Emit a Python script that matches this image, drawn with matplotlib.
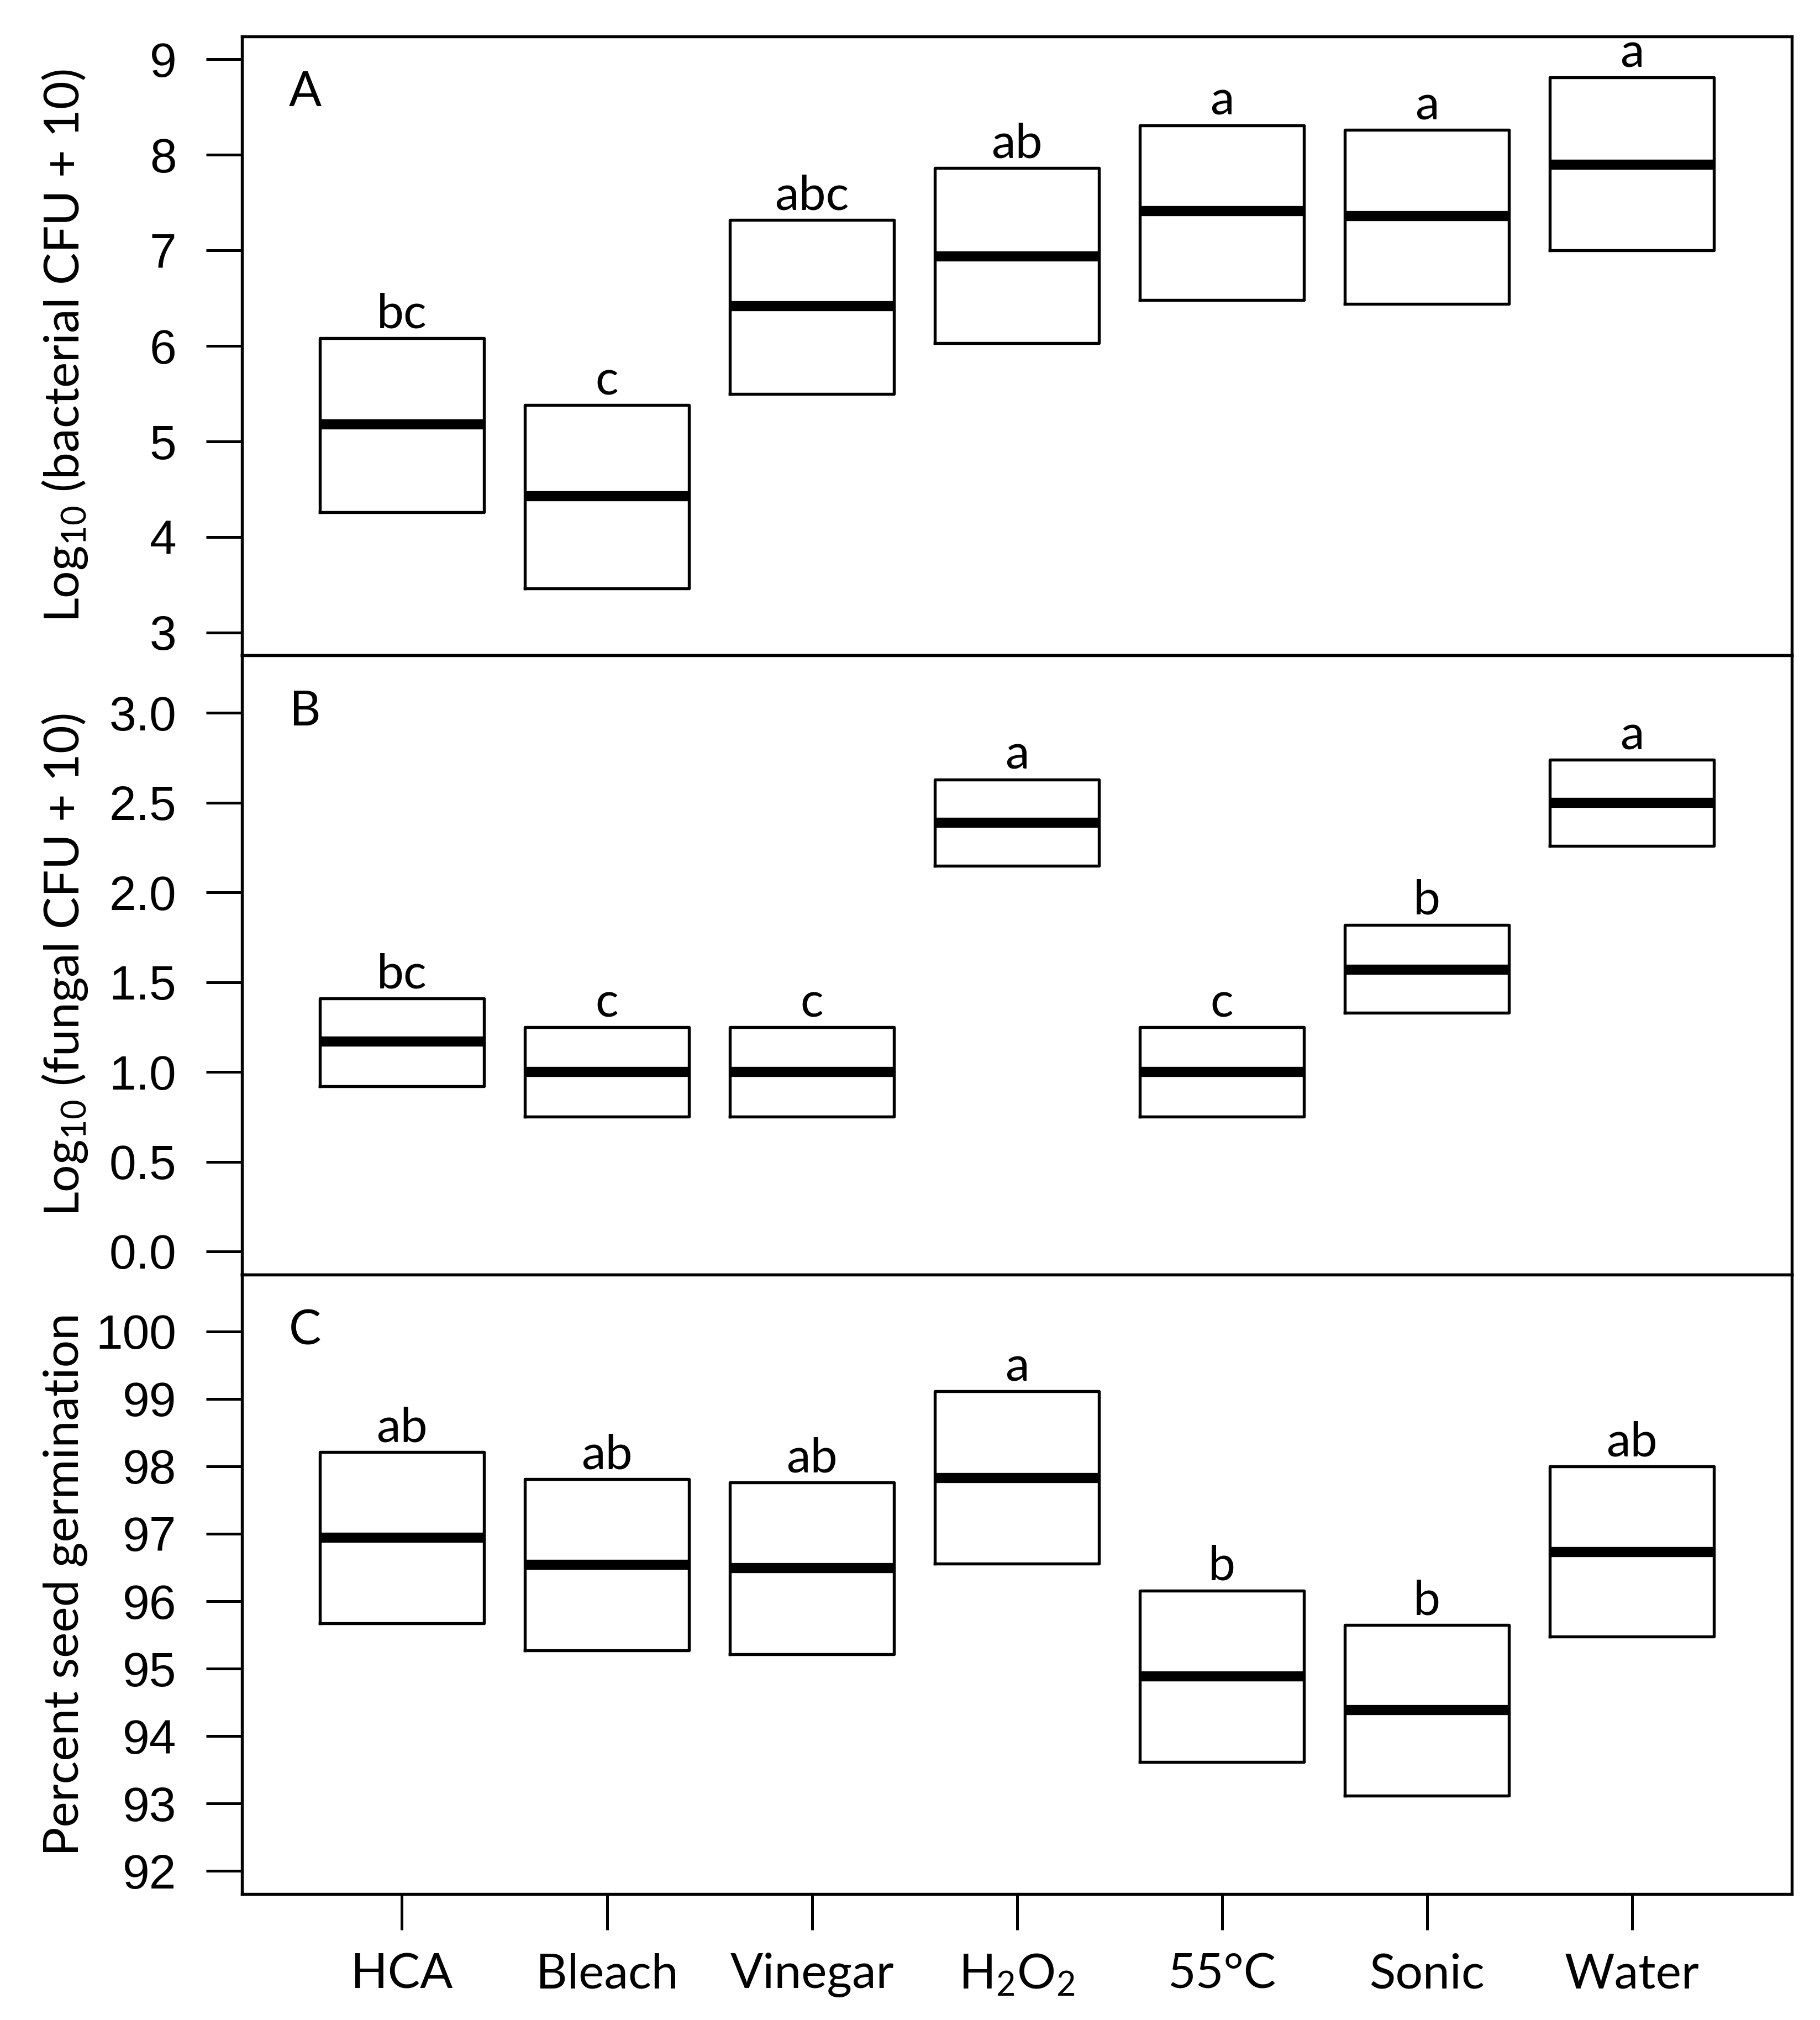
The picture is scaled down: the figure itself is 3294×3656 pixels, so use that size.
"""Three stacked box panels: bacterial CFU, fungal CFU, seed germination."""

import matplotlib

matplotlib.use("Agg")
import matplotlib.pyplot as plt
from matplotlib.ticker import FormatStrFormatter

plt.rcParams["mathtext.fontset"] = "custom"
plt.rcParams["mathtext.rm"] = "Lato"
plt.rcParams["mathtext.it"] = "Lato:italic"

# Treatments along the x axis
treatments = ["HCA", "Bleach", "Vinegar", "H$_2$O$_2$", "55°C", "Sonic", "Water"]

# Panel A: log10(bacterial CFU + 10) -- box low / centre line / box high
bact_low = [4.26, 3.46, 5.50, 6.03, 6.48, 6.44, 7.00]
bact_mid = [5.18, 4.43, 6.42, 6.94, 7.41, 7.36, 7.90]
bact_high = [6.08, 5.38, 7.32, 7.86, 8.31, 8.26, 8.81]
bact_letters = ["bc", "c", "abc", "ab", "a", "a", "a"]

# Panel B: log10(fungal CFU + 10)
fung_low = [0.92, 0.75, 0.75, 2.15, 0.75, 1.33, 2.26]
fung_mid = [1.17, 1.00, 1.00, 2.39, 1.00, 1.57, 2.50]
fung_high = [1.41, 1.25, 1.25, 2.63, 1.25, 1.82, 2.74]
fung_letters = ["bc", "c", "c", "a", "c", "b", "a"]

# Panel C: percent seed germination
germ_low = [95.67, 95.27, 95.21, 96.56, 93.62, 93.12, 95.48]
germ_mid = [96.94, 96.54, 96.49, 97.83, 94.89, 94.39, 96.73]
germ_high = [98.21, 97.81, 97.76, 99.11, 96.16, 95.65, 98.00]
germ_letters = ["ab", "ab", "ab", "a", "b", "b", "ab"]

LABEL_FONT = "Lato"
NUM_FONT = "Liberation Sans"
FS = 21
FS_TXT = 21

panels = [
    dict(low=bact_low, mid=bact_mid, high=bact_high, letters=bact_letters,
         tag="A", ylabel="Log$_{10}$ (bacterial CFU + 10)",
         ticks=[3, 4, 5, 6, 7, 8, 9], ylim=(2.76, 9.24), fmt="%d"),
    dict(low=fung_low, mid=fung_mid, high=fung_high, letters=fung_letters,
         tag="B", ylabel="Log$_{10}$ (fungal CFU + 10)",
         ticks=[0.0, 0.5, 1.0, 1.5, 2.0, 2.5, 3.0], ylim=(-0.13, 3.32),
         fmt="%.1f"),
    dict(low=germ_low, mid=germ_mid, high=germ_high, letters=germ_letters,
         tag="C", ylabel="Percent seed germination",
         ticks=[92, 93, 94, 95, 96, 97, 98, 99, 100], ylim=(91.66, 100.84),
         fmt="%d"),
]

fig, axes = plt.subplots(3, 1, figsize=(3294 / 300, 3656 / 300), dpi=300)
fig.subplots_adjust(left=0.133, right=0.9845, top=0.982, bottom=0.0624,
                    hspace=0.0)

positions = list(range(1, len(treatments) + 1))

for ax, p in zip(axes, panels):
    stats = [
        {"med": m, "q1": lo, "q3": hi, "whislo": lo, "whishi": hi}
        for lo, m, hi in zip(p["low"], p["mid"], p["high"])
    ]
    ax.bxp(stats, positions=positions, widths=0.8, showcaps=False,
           showfliers=False, manage_ticks=False,
           boxprops=dict(linewidth=1.3, color="black"),
           whiskerprops=dict(linewidth=0),
           medianprops=dict(linewidth=4.4, color="black",
                            solid_capstyle="butt"))

    for x, hi, lab in zip(positions, p["high"], p["letters"]):
        ax.annotate(lab, (x, hi), xytext=(0, 4.5), textcoords="offset points",
                    ha="center", va="baseline", fontsize=FS_TXT,
                    family=LABEL_FONT)

    ax.set_xlim(0.22, 7.78)
    ax.set_ylim(*p["ylim"])
    ax.set_yticks(p["ticks"])
    ax.yaxis.set_major_formatter(FormatStrFormatter(p["fmt"]))
    ax.tick_params(axis="y", direction="out", length=15.5, width=1.2,
                   pad=13, labelsize=FS)
    for lbl in ax.get_yticklabels():
        lbl.set_family(NUM_FONT)
    for sp in ax.spines.values():
        sp.set_linewidth(1.3)

    ax.text(0.0407, 0.909, p["tag"], transform=ax.transAxes, ha="center",
            va="center", fontsize=FS_TXT, family=LABEL_FONT)
    ax.text(-0.114, 0.5, p["ylabel"], transform=ax.transAxes, rotation=90,
            ha="center", va="center", fontsize=FS_TXT, family=LABEL_FONT)

    ax.set_xticks([])

# Treatment names only on the bottom panel
axes[-1].set_xticks(positions)
axes[-1].set_xticklabels(treatments, family=LABEL_FONT, fontsize=FS_TXT)
axes[-1].tick_params(axis="x", direction="out", length=15.5, width=1.2,
                     pad=10)

fig.savefig("out.png", dpi=300, facecolor="white")
plt.close(fig)
